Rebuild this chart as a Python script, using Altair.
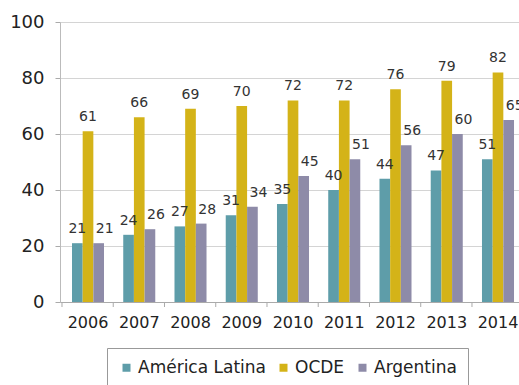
import altair as alt
import pandas as pd

years = ["2006", "2007", "2008", "2009", "2010", "2011", "2012", "2013", "2014"]
series = ["América Latina", "OCDE", "Argentina"]
america_latina = [21, 24, 27, 31, 35, 40, 44, 47, 51]
ocde = [61, 66, 69, 70, 72, 72, 76, 79, 82]
argentina = [21, 26, 28, 34, 45, 51, 56, 60, 65]
colors = ["#5E9DA9", "#D4B318", "#8E8BA8"]

rows = []
for name, vals in zip(series, [america_latina, ocde, argentina]):
    for y, v in zip(years, vals):
        rows.append({"year": y, "series": name, "value": v})
df = pd.DataFrame(rows)
years_df = pd.DataFrame({"year": years})

FONT = "DejaVu Sans"

x_scale = alt.Scale(domain=years, paddingInner=0.375, paddingOuter=0.234, range=[0, 466])

x_enc = alt.X("year:N", sort=years, scale=x_scale,
              axis=alt.Axis(title=None, labelAngle=0, labelFontSize=16, labelFont=FONT,
                            labelColor="#222", labelPadding=12, ticks=False,
                            domainColor="#aaa", grid=False))

color_enc = alt.Color("series:N", sort=series,
                      scale=alt.Scale(domain=series, range=colors),
                      legend=alt.Legend(title=None, orient="none", legendX=47, legendY=326,
                                        direction="horizontal", symbolType="square",
                                        symbolSize=64, labelFontSize=17, labelFont=FONT,
                                        labelColor="#222", strokeColor="#999",
                                        fillColor="white",
                                        padding=11, columnPadding=9, symbolStrokeWidth=0,
                                        labelOffset=3))

y_enc = alt.Y("value:Q", scale=alt.Scale(domain=[0, 100]),
              axis=alt.Axis(title=None, values=[0, 20, 40, 60, 80, 100], labelFontSize=18,
                            labelFont=FONT, labelColor="#222", labelPadding=11,
                            tickSize=5, tickColor="#aaa",
                            gridColor="#d4d4d4", domainColor="#bbb"))

base = alt.Chart(df).encode(
    x=x_enc,
    xOffset=alt.XOffset("series:N", sort=series),
    y=y_enc,
)

bars = base.mark_bar().encode(color=color_enc)

labels_main = base.mark_text(dy=-14, fontSize=14, font=FONT, color="#333").encode(
    text=alt.Text("value:Q")).transform_filter(alt.datum.series != "Argentina")
labels_arg = base.mark_text(dy=-14, dx=6, fontSize=14, font=FONT, color="#333").encode(
    text=alt.Text("value:Q")).transform_filter(alt.datum.series == "Argentina")

ticks = alt.Chart(years_df).mark_rule(color="#aaa").encode(
    x=alt.X("year:N", sort=years, scale=x_scale, bandPosition=0),
    xOffset=alt.value(-10),
    y=alt.value(280),
    y2=alt.value(285),
)

chart = alt.layer(bars, labels_main, labels_arg, ticks).properties(
    width=459, height=280,
    autosize=alt.AutoSizeParams(type="none"),
    padding={"left": 60, "top": 22, "right": 0, "bottom": 83},
).configure_view(stroke=None)

chart.save("out.html", embed_options={"renderer": "svg", "actions": False})
